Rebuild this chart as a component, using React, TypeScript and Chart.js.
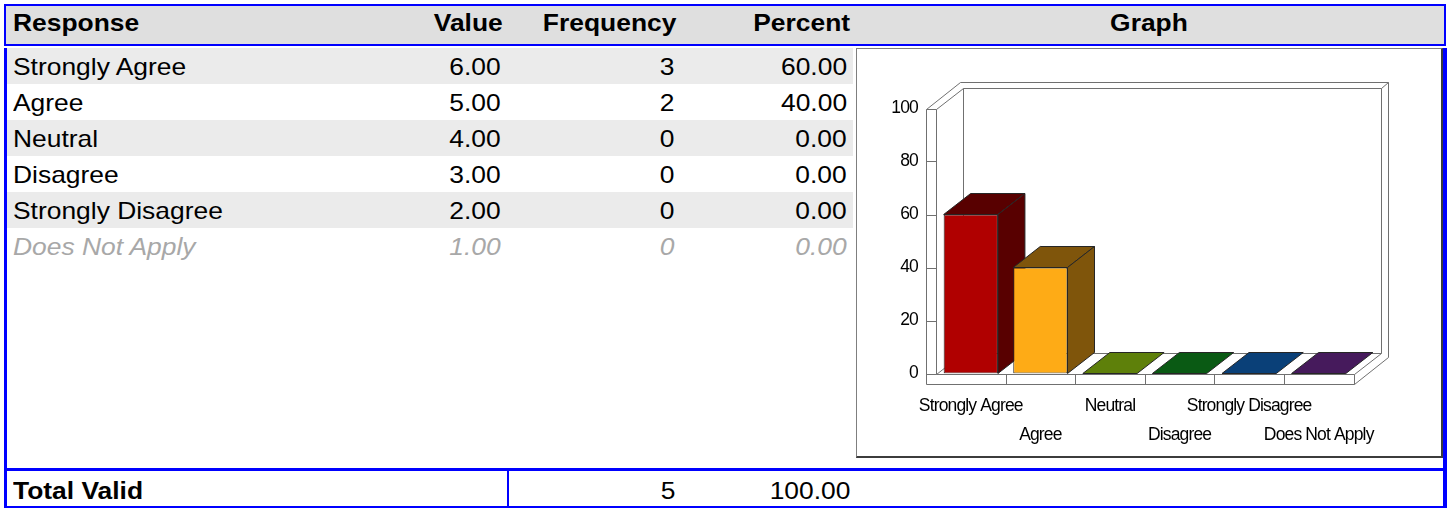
import React, { useEffect, useRef } from 'react';
import { Chart, registerables } from 'chart.js';

Chart.register(...registerables);

// ---------- data ----------
const responses = ['Strongly Agree', 'Agree', 'Neutral', 'Disagree', 'Strongly Disagree', 'Does Not Apply'];
const responseValues = [6, 5, 4, 3, 2, 1];
const frequencies = [3, 2, 0, 0, 0, 0];
const percents = [60, 40, 0, 0, 0, 0];
const excludedRows = [false, false, false, false, false, true];
const yTickValues = [0, 20, 40, 60, 80, 100];
const totalFrequency = 5;
const totalPercent = 100;
const barColors = ['#B00000', '#FEAB16', '#BCFF14', '#14B428', '#1480F0', '#8C32B8'];
const barShades = ['#580000', '#7F550B', '#5E800A', '#0A5A14', '#0A4078', '#461A5C'];

// ---------- styling constants ----------
const FONT = '"Liberation Sans", Arial, Helvetica, sans-serif';
const BLUE = '#0000ff';
const DEPTH_X = 27;
const DEPTH_Y = -21;
const BACK_DEPTH = 1.27;
const WALL_W = 10;
const FLOOR_H = 10;
const WALL_LINE = '#707070';
const EDGE_LINE = '#262626';

const spacingPlugin = {
  id: 'spacing',
  beforeDraw(chart: any) {
    (chart.ctx as any).letterSpacing = '-0.85px';
  },
};

const threeDPlugin = {
  id: 'threeD',
  beforeDatasetsDraw(chart: any) {
    const { ctx, chartArea } = chart;
    const L = chartArea.left, R = chartArea.right, T = chartArea.top, B = chartArea.bottom;
    const xs = chart.scales.x, ys = chart.scales.y;
    const X0 = L - WALL_W, BB = B + FLOOR_H;
    const P = (x: number, y: number, d: number): [number, number] => [x + d * DEPTH_X, y + d * DEPTH_Y];
    const snap = (v: number) => Math.round(v) + 0.5;
    const path = (pts: [number, number][], close: boolean, doSnap = true) => {
      ctx.beginPath();
      pts.forEach(([x, y], k) => {
        const px = doSnap ? snap(x) : x, py = doSnap ? snap(y) : y;
        if (k === 0) ctx.moveTo(px, py); else ctx.lineTo(px, py);
      });
      if (close) ctx.closePath();
    };
    const seg = (a: [number, number], b: [number, number]) => { path([a, b], false); ctx.stroke(); };

    ctx.save();
    (ctx as any).letterSpacing = '0px';
    ctx.lineWidth = 1;
    ctx.strokeStyle = WALL_LINE;
    path([P(X0, BB, 0), P(X0, T, 0), P(X0, T, BACK_DEPTH), P(R, T, BACK_DEPTH), P(R, BB, BACK_DEPTH), P(R, BB, 0)], true);
    ctx.fillStyle = '#ffffff';
    ctx.fill();
    ctx.stroke();
    // left wall
    seg(P(L, T, 0), P(L, B, 0));
    seg(P(L, T, 0), P(L, T, 1));
    // back wall face
    path([P(L, B, 1), P(L, T, 1), P(R, T, 1), P(R, B, 1)], false);
    ctx.stroke();
    seg(P(R, T, 1), P(R, T, BACK_DEPTH));
    // floor
    seg(P(L, B, 0), P(R, B, 0));
    seg(P(L, B, 0), P(L, B, 1));
    seg(P(L, B, 1), P(R, B, 1));
    seg(P(R, B, 0), P(R, B, 1));
    seg(P(R, B, 0), P(R, BB, 0));
    const n = xs.ticks.length;
    for (let i = 1; i < n; i++) {
      const x = (xs.getPixelForValue(i - 1) + xs.getPixelForValue(i)) / 2;
      seg([x, B], [x, BB]);
    }
    ys.ticks.forEach((t: any) => {
      const y = ys.getPixelForValue(t.value);
      seg([X0, y], [L, y]);
    });

    // bar tops and sides (fronts are drawn by Chart.js afterwards)
    const meta = chart.getDatasetMeta(0);
    ctx.strokeStyle = EDGE_LINE;
    meta.data.forEach((el: any, i: number) => {
      const { x, y, base, width } = el.getProps(['x', 'y', 'base', 'width'], true);
      const x0 = x - width / 2, x1 = x + width / 2;
      ctx.fillStyle = barShades[i];
      path([[x0, y], [x1, y], [x1 + DEPTH_X, y + DEPTH_Y], [x0 + DEPTH_X, y + DEPTH_Y]], true, false);
      ctx.fill();
      ctx.stroke();
      if (base - y > 0.5) {
        path([[x1, y], [x1 + DEPTH_X, y + DEPTH_Y], [x1 + DEPTH_X, base + DEPTH_Y], [x1, base]], true, false);
        ctx.fill();
        ctx.stroke();
      }
    });
    ctx.restore();
  },
};

function GraphCanvas() {
  const ref = useRef<HTMLCanvasElement>(null);
  useEffect(() => {
    const canvas = ref.current;
    if (!canvas) return;
    const chart = new Chart(canvas, {
      type: 'bar',
      data: {
        labels: responses.map((r, i) => (i % 2 === 0 ? [r] : ['', r])) as any,
        datasets: [
          {
            data: percents,
            backgroundColor: barColors,
            borderColor: EDGE_LINE,
            borderWidth: 1,
            borderSkipped: false,
            barPercentage: 0.78,
            categoryPercentage: 1,
          } as any,
        ],
      },
      options: {
        responsive: false,
        animation: false,
        devicePixelRatio: 1,
        events: [],
        layout: { padding: { top: 59.5, right: 87.5, left: 0, bottom: 0 } },
        plugins: { legend: { display: false }, tooltip: { enabled: false }, title: { display: false } },
        scales: {
          x: {
            offset: true,
            grid: { display: false, drawTicks: false },
            border: { display: false },
            ticks: {
              color: '#000',
              font: { family: FONT, size: 17.5, lineHeight: 1.63 },
              padding: 18.4,
              autoSkip: false,
              maxRotation: 0,
              minRotation: 0,
            },
            afterFit: (s: any) => { s.height = 82.5; },
          },
          y: {
            min: 0,
            max: 100,
            grid: { display: false, drawTicks: false },
            border: { display: false },
            ticks: { color: '#000', font: { family: FONT, size: 17.5 }, padding: 18 },
            afterBuildTicks: (s: any) => { s.ticks = yTickValues.map((v) => ({ value: v })); },
            afterFit: (s: any) => { s.width = 79; },
          },
        },
      } as any,
      plugins: [spacingPlugin, threeDPlugin],
    });
    return () => chart.destroy();
  }, []);
  return (
    <canvas
      ref={ref}
      width={584}
      height={407}
      style={{ position: 'absolute', left: 857, top: 49, width: 584, height: 407, display: 'block' }}
    />
  );
}

type Align = 'left' | 'right' | 'center';
function Txt(props: { x: number; y: number; h: number; align: Align; bold?: boolean; italic?: boolean; color?: string; children: React.ReactNode }) {
  const { x, y, h, align, bold, italic, color, children } = props;
  const st: React.CSSProperties = {
    position: 'absolute',
    top: y,
    height: h,
    lineHeight: h + 'px',
    whiteSpace: 'nowrap',
    fontSize: 24,
    fontWeight: bold ? 'bold' : 'normal',
    fontStyle: italic ? 'italic' : 'normal',
    color: color || '#000',
  };
  if (align === 'left') {
    st.left = x;
    st.transform = 'scaleX(1.1)';
    st.transformOrigin = 'left center';
  } else if (align === 'right') {
    st.right = 1448 - x;
    st.transform = 'scaleX(1.1)';
    st.transformOrigin = 'right center';
  } else {
    st.left = x;
    st.transform = 'translateX(-50%) scaleX(1.1)';
    st.transformOrigin = 'center center';
  }
  return <div style={st}>{children}</div>;
}

const box = (left: number, top: number, width: number, height: number, bg: string, extra: React.CSSProperties = {}) => (
  <div style={{ position: 'absolute', left, top, width, height, background: bg, ...extra }} />
);

export default function App() {
  const ROW_TOP = 48;
  const ROW_H = 36;
  return (
    <div style={{ position: 'absolute', left: 0, top: 0, width: 1448, height: 510, background: '#fff', fontFamily: FONT, overflow: 'hidden' }}>
      {/* header */}
      {box(4, 4, 1442, 42, '#dfdfdf', { border: `2px solid ${BLUE}`, boxSizing: 'border-box' })}
      <Txt x={13} y={4} h={38} align="left" bold>Response</Txt>
      <Txt x={503} y={4} h={38} align="right" bold>Value</Txt>
      <Txt x={676} y={4} h={38} align="right" bold>Frequency</Txt>
      <Txt x={850} y={4} h={38} align="right" bold>Percent</Txt>
      <Txt x={1149} y={4} h={38} align="center" bold>Graph</Txt>

      {/* body borders */}
      {box(4, 48, 3, 420, BLUE)}
      {box(1443, 48, 4, 420, BLUE)}

      {/* rows */}
      {responses.map((r, i) => (i % 2 === 0 ? <React.Fragment key={'bg' + i}>{box(7, ROW_TOP + i * ROW_H, 846, ROW_H, '#ebebeb')}</React.Fragment> : null))}
      {responses.map((r, i) => {
        const y = ROW_TOP + i * ROW_H + 1.4;
        const ex = excludedRows[i];
        const col = ex ? '#a8a8a8' : '#000';
        return (
          <React.Fragment key={'row' + i}>
            <Txt x={13} y={y} h={ROW_H} align="left" italic={ex} color={col}>{r}</Txt>
            <Txt x={501} y={y} h={ROW_H} align="right" italic={ex} color={col}>{responseValues[i].toFixed(2)}</Txt>
            <Txt x={674} y={y} h={ROW_H} align="right" italic={ex} color={col}>{String(frequencies[i])}</Txt>
            <Txt x={847} y={y} h={ROW_H} align="right" italic={ex} color={col}>{percents[i].toFixed(2)}</Txt>
          </React.Fragment>
        );
      })}

      {/* graph box */}
      <div
        style={{
          position: 'absolute',
          left: 856,
          top: 48,
          width: 587,
          height: 410,
          boxSizing: 'border-box',
          background: '#fff',
          borderLeft: '1px solid #7f7f7f',
          borderTop: '1px solid #7f7f7f',
          borderRight: '2px solid #3c3c3c',
          borderBottom: '2px solid #3c3c3c',
        }}
      />
      <GraphCanvas />

      {/* footer */}
      {box(4, 468, 1443, 3, BLUE)}
      {box(4, 468, 3, 40, BLUE)}
      {box(1443, 468, 4, 40, BLUE)}
      {box(4, 506, 1443, 2, BLUE)}
      {box(507, 471, 2, 35, BLUE)}
      <Txt x={13} y={472.7} h={36} align="left" bold>Total Valid</Txt>
      <Txt x={675} y={472.7} h={36} align="right">{String(totalFrequency)}</Txt>
      <Txt x={850} y={472.7} h={36} align="right">{totalPercent.toFixed(2)}</Txt>
    </div>
  );
}
